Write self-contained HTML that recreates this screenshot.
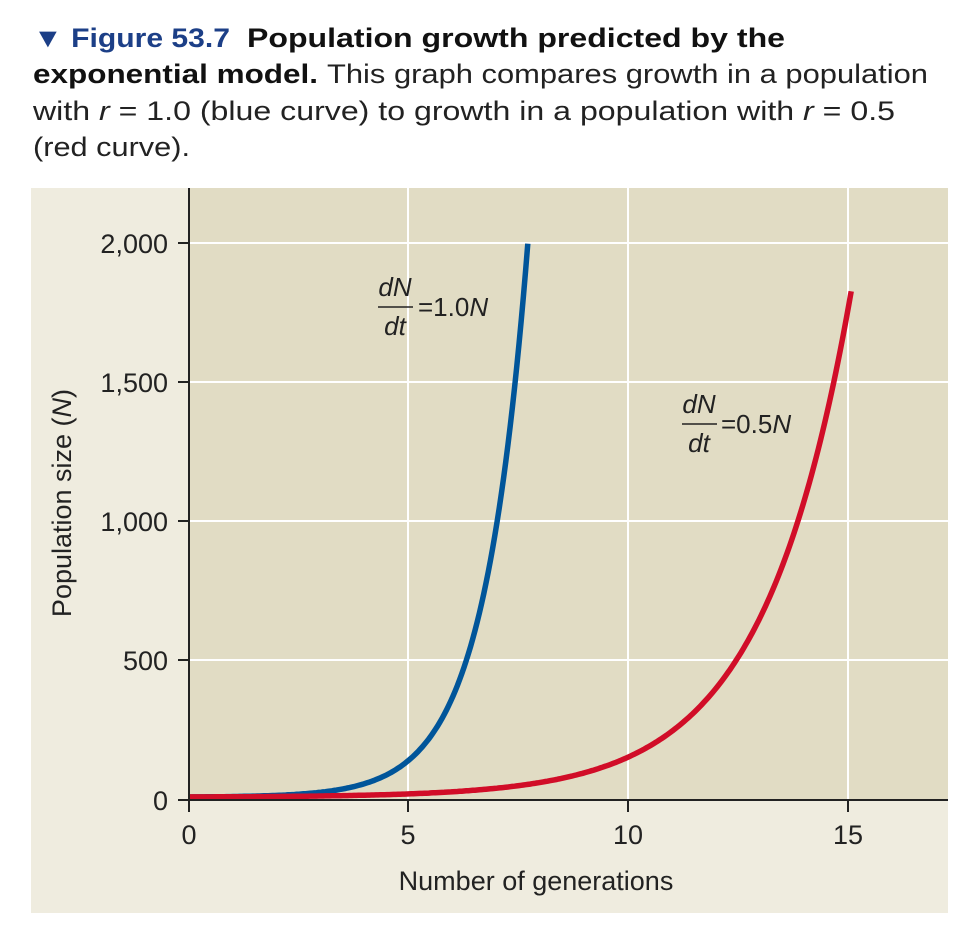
<!DOCTYPE html>
<html><head><meta charset="utf-8"><style>
html,body{margin:0;padding:0;background:#fff;}
svg{display:block;}
text{font-family:"Liberation Sans","DejaVu Sans",sans-serif;}
</style></head><body>
<svg id="s" width="964" height="934" viewBox="0 0 964 934" xmlns="http://www.w3.org/2000/svg">
<rect x="0" y="0" width="964" height="934" fill="#fff"/>
<text x="33" y="47" font-size="27" font-weight="bold" fill="#1c3f87" textLength="197" lengthAdjust="spacingAndGlyphs">▼ Figure 53.7</text>
<text x="247" y="47" font-size="27" font-weight="bold" fill="#111" textLength="538" lengthAdjust="spacingAndGlyphs">Population growth predicted by the</text>
<text x="33" y="83" font-size="27" font-weight="bold" fill="#111" textLength="285" lengthAdjust="spacingAndGlyphs">exponential model.</text>
<text x="327" y="83" font-size="27" fill="#222" textLength="601" lengthAdjust="spacingAndGlyphs">This graph compares growth in a population</text>
<text x="33" y="120" font-size="27" fill="#222" textLength="862" lengthAdjust="spacingAndGlyphs">with <tspan font-style="italic">r</tspan> =  1.0 (blue curve) to growth in a population with <tspan font-style="italic">r</tspan> = 0.5</text>
<text x="33" y="156" font-size="27" fill="#222" textLength="157" lengthAdjust="spacingAndGlyphs">(red curve).</text>

<rect x="31" y="188" width="917" height="725" fill="#efecdf"/>
<rect x="189" y="188" width="759" height="612" fill="#e1dcc4"/>
<g stroke="#fff" stroke-width="2">
<line x1="408" y1="188" x2="408" y2="800"/><line x1="628" y1="188" x2="628" y2="800"/><line x1="848" y1="188" x2="848" y2="800"/>
<line x1="189" y1="243" x2="948" y2="243"/><line x1="189" y1="382" x2="948" y2="382"/><line x1="189" y1="521" x2="948" y2="521"/><line x1="189" y1="660" x2="948" y2="660"/>
</g>
<path id="blue" fill="none" stroke="#00559a" stroke-width="5.5" stroke-linecap="butt"/>
<path id="red" fill="none" stroke="#d10d28" stroke-width="5.5" stroke-linecap="butt"/>
<g stroke="#222" stroke-width="2">
<line x1="189" y1="188" x2="189" y2="812"/><line x1="178" y1="800" x2="948" y2="800"/>
<line x1="178" y1="243" x2="189" y2="243"/><line x1="178" y1="382" x2="189" y2="382"/><line x1="178" y1="521" x2="189" y2="521"/><line x1="178" y1="660" x2="189" y2="660"/>
<line x1="408" y1="800" x2="408" y2="812"/><line x1="628" y1="800" x2="628" y2="812"/><line x1="848" y1="800" x2="848" y2="812"/>
</g>
<g font-size="27" fill="#222" text-anchor="end">
<text x="168" y="253">2,000</text><text x="168" y="392">1,500</text><text x="168" y="531">1,000</text><text x="168" y="670">500</text><text x="168" y="810">0</text>
</g>
<g font-size="27" fill="#222" text-anchor="middle">
<text x="189" y="844">0</text><text x="408" y="844">5</text><text x="628" y="844">10</text><text x="848" y="844">15</text>
<text x="536" y="890">Number of generations</text>
<text transform="translate(71,503) rotate(-90)">Population size (<tspan font-style="italic">N</tspan>)</text>
</g>
<g font-size="26" fill="#222">
<text x="395" y="296" text-anchor="middle" font-style="italic">dN</text>
<line x1="378" y1="307" x2="413" y2="307" stroke="#222" stroke-width="1.5"/>
<text x="395" y="335" text-anchor="middle" font-style="italic">dt</text>
<text x="418" y="316">=1.0<tspan font-style="italic">N</tspan></text>
<text x="699" y="413" text-anchor="middle" font-style="italic">dN</text>
<line x1="682" y1="424" x2="717" y2="424" stroke="#222" stroke-width="1.5"/>
<text x="699" y="452" text-anchor="middle" font-style="italic">dt</text>
<text x="721" y="433">=0.5<tspan font-style="italic">N</tspan></text>
</g>
</svg>
<script>
function X(t){return 189+44*t;}
function Y(n){return 800-n*0.2785;}
function p(f,t1){var d="";for(var t=0;t<=t1+1e-9;t+=0.05){d+=(d?"L":"M")+X(t).toFixed(1)+","+Y(f(t)).toFixed(1);}return d;}
document.getElementById("blue").setAttribute("d",p(function(t){return 10+0.9*Math.exp(t);},7.7));
document.getElementById("red").setAttribute("d",p(function(t){return 10+0.98*Math.exp(0.5*t);},15.05));
</script>
</body></html>
